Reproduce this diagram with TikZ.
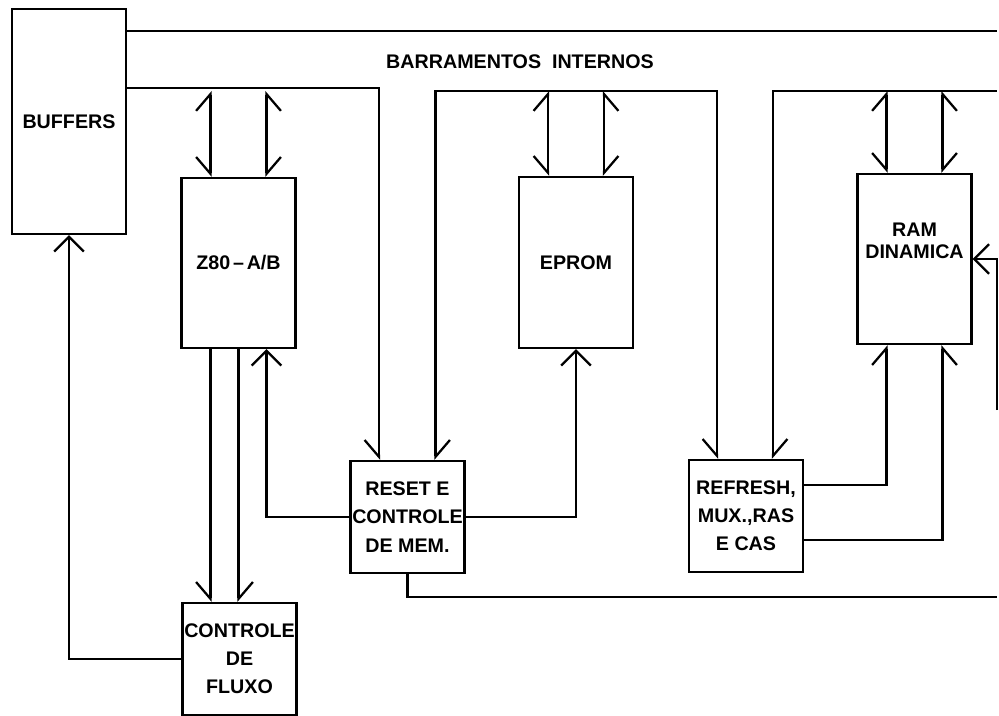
\documentclass[tikz,border=0pt]{standalone}
\usepackage{fontspec}
\setmainfont{Liberation Sans}
\usetikzlibrary{arrows.meta, calc, positioning}

\tikzset{
  blk/.style={draw, line width=1.6pt, inner sep=0pt, align=center, minimum width=2.85cm},
  wire/.style={line width=1.6pt},
  every node/.style={font=\fontsize{14}{20}\selectfont\bfseries},
  fa/.tip={Straight Barb[length=0.37cm, width=0.74cm]},
  hl/.tip={Straight Barb[harpoon, length=0.42cm, width=0.72cm]},
  hr/.tip={Straight Barb[harpoon, swap, length=0.42cm, width=0.72cm]},
}

\begin{document}
\begin{tikzpicture}[x=0.025cm, y=-0.025cm, line join=miter]
  \useasboundingbox (0,0) rectangle (999,716);
  % blocos
  \node[blk, minimum height=5.625cm] (buf) at (69,121.5) {BUFFERS};
  \node[blk, minimum height=4.25cm] (z80) at (238.5,263) {Z80\kern2pt--\kern2pt A/B};
  \node[blk, minimum height=4.275cm] (eprom) at (576,262.5) {EPROM};
  \node[blk, minimum height=4.25cm, label={[yshift=0.45cm, align=center, font=\fontsize{14}{16}\selectfont\bfseries]center:RAM\\DINAMICA}] (ram) at (914.5,259) {};
  \node[blk, minimum height=2.8cm] (reset) at (407.5,517) {RESET E\\CONTROLE\\DE MEM.};
  \node[blk, minimum height=2.8cm] (refresh) at (746,516) {REFRESH,\\MUX.,RAS\\E CAS};
  \node[blk, minimum height=2.8cm] (fluxo) at (239.5,659) {CONTROLE\\DE\\FLUXO};
  \node (bar) at (520,62) {BARRAMENTOS\ \ INTERNOS};

  % pontos livres
  \coordinate (edge) at (997,0);
  \coordinate (lvl) at (0,91);
  \coordinate (lo) at (0,597);
  \coordinate (rr) at (997,410);
  \coordinate (ta) at ($(buf.north east)+(0,23)$);
  \coordinate (ba) at ($(buf.north east)+(0,80)$);
  \coordinate (zA) at ($(z80.north)+(-28,0)$);
  \coordinate (zB) at ($(z80.north)+(28,0)$);
  \coordinate (eA) at ($(eprom.north)+(-28,0)$);
  \coordinate (eB) at ($(eprom.north)+(28,0)$);
  \coordinate (mA) at ($(ram.north)+(-28,0)$);
  \coordinate (mB) at ($(ram.north)+(28,0)$);
  \coordinate (rA) at ($(reset.north)+(-28.5,0)$);
  \coordinate (rB) at ($(reset.north)+(28,0)$);
  \coordinate (fA) at ($(refresh.north)+(-29,0)$);
  \coordinate (fB) at ($(refresh.north)+(27,0)$);
  \coordinate (sA) at ($(z80.south)+(-28,0)$);
  \coordinate (sB) at (z80.south);

  % barramentos
  \draw[wire] (ta) -- (ta -| edge);
  \draw[wire, -hr] (ba) -| (rA);
  \draw[wire, hl-hr] (rB) -- (rB |- lvl) -| (fA);
  \draw[wire, hl-] (fB) -- (fB |- lvl) -- (edge |- lvl);

  % ligacoes de barramento
  \draw[wire, hl-hr] (zA |- lvl) -- (zA);
  \draw[wire, hr-hl] (zB |- lvl) -- (zB);
  \draw[wire, hl-hr] (eA |- lvl) -- (eA);
  \draw[wire, hr-hl] (eB |- lvl) -- (eB);
  \draw[wire, hl-hr] (mA |- lvl) -- (mA);
  \draw[wire, hr-hl] (mB |- lvl) -- (mB);

  % sinais de controle
  \draw[wire, -hr] (sA) -- (sA |- fluxo.north);
  \draw[wire, -hl] (sB) -- (sB |- fluxo.north);
  \draw[wire, -fa] (reset.west) -| ($(z80.south)+(28,0)$);
  \draw[wire, -fa] (reset.east) -| (eprom.south);
  \draw[wire] (reset.south) |- (lo -| edge);
  \draw[wire, -hl] ($(refresh.east)+(0,-31)$) -| ($(ram.south)+(-28,0)$);
  \draw[wire, -hr] ($(refresh.east)+(0,24)$) -| ($(ram.south)+(28,0)$);
  \draw[wire, -fa] (rr) |- (ram.east);
  \draw[wire, -fa] (fluxo.west) -| (buf.south);
\end{tikzpicture}
\end{document}
